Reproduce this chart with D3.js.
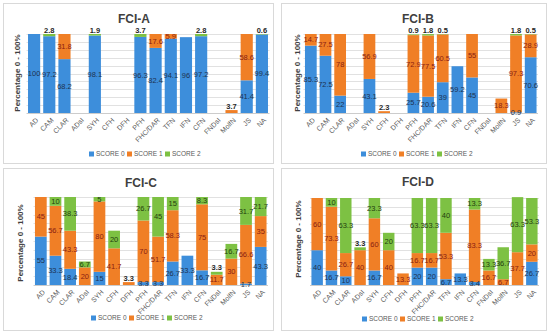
<!DOCTYPE html>
<html lang="en">
<head>
<meta charset="utf-8">
<title>FCI scores</title>
<style>
  body { margin: 0; background: #fff; }
  svg { display: block; font-family: 'Liberation Sans', Arial, sans-serif; }
</style>
</head>
<body>
<div id="chart"></div>
<script src="https://cdnjs.cloudflare.com/ajax/libs/d3/7.8.5/d3.min.js"></script>
<script>
const categories = ['AD', 'CAM', 'CLAR', 'ADsI', 'SYH', 'CFH', 'DFH', 'PFH', 'FHC/DAR', 'TFN', 'IFN', 'CFN', 'FNDsI', 'MolfN', 'JS', 'NA']
const seriesNames = ['SCORE 0', 'SCORE 1', 'SCORE 2']
const yTicks = [0, 10, 20, 30, 40, 50, 60, 70, 80, 90, 100]

// FCI-A
const fciA0 = [100, 97.2, 68.2, 0, 98.1, 0, 0, 96.3, 82.4, 94.1, 96.0, 97.2, 0, 0, 41.4, 99.4]
const fciA1 = [0, 0, 31.8, 0, 0, 0, 0, 0, 17.6, 5.9, 0, 0, 0, 3.7, 58.6, 0]
const fciA2 = [0, 2.8, 0, 0, 1.9, 0, 0, 3.7, 0, 0, 0, 2.8, 0, 0, 0, 0.6]
// FCI-B
const fciB0 = [85.3, 72.5, 22, 0, 43.1, 0, 0, 25.7, 20.6, 39, 59.2, 45, 0, 0, 0.9, 70.6]
const fciB1 = [14.7, 27.5, 78, 0, 56.9, 2.3, 0, 72.9, 77.5, 60.5, 0, 55, 0, 18.3, 97.3, 28.9]
const fciB2 = [0, 0, 0, 0, 0, 0, 0, 0.9, 1.8, 0.5, 0, 0, 0, 0, 1.8, 0.5]
// FCI-C
const fciC0 = [55, 33.3, 18.4, 0, 15, 0, 0, 3.3, 3.3, 26.7, 33.3, 16.7, 0, 0, 1.7, 43.3]
const fciC1 = [45, 56.7, 43.3, 20, 80, 41.7, 3.3, 70, 51.7, 58.3, 0, 75, 11.7, 30, 66.6, 35]
const fciC2 = [0, 10, 38.3, 6.7, 5, 20, 0, 26.7, 45, 15, 0, 8.3, 3.3, 16.7, 31.7, 21.7]
// FCI-D
const fciD0 = [40, 16.7, 10, 0, 16.7, 0, 0, 20, 20, 6.7, 13.3, 3.4, 0, 0, 0, 26.7]
const fciD1 = [60, 73.3, 26.7, 40, 60, 40, 13.3, 16.7, 16.7, 53.3, 0, 83.3, 16.7, 6.7, 37.7, 20]
const fciD2 = [0, 10, 63.3, 3.3, 23.3, 20, 0, 63.3, 63.3, 40, 0, 13.3, 13.3, 36.7, 63.3, 53.3]

const colors = ['#3d8edb', '#f07f26', '#7dc143']
const labelColors = ['#1d3352', '#8a2112', '#24400f']

const svg = d3.select('#chart').append('svg')
  .attr('width', 550)
  .attr('height', 335)

// panel boxes
drawPanel('FCI-A', [fciA0, fciA1, fciA2],
  { x0: 3, y0: 3, x1: 273, y1: 163, left: 26.5, right: 269.5, top: 34, bottom: 113, titleX: 134, titleY: 23, yTitleX: 17, yTitleY: 73, legendX: 89, legendY: 154 })
drawPanel('FCI-B', [fciB0, fciB1, fciB2],
  { x0: 281, y0: 3, x1: 546, y1: 163, left: 303.5, right: 538, top: 34, bottom: 113, titleX: 418, titleY: 23, yTitleX: 297, yTitleY: 73, legendX: 361, legendY: 154 })
drawPanel('FCI-C', [fciC0, fciC1, fciC2],
  { x0: 3, y0: 168, x1: 273, y1: 330, left: 33.5, right: 268, top: 197, bottom: 285, titleX: 141, titleY: 187, yTitleX: 20, yTitleY: 243, legendX: 91, legendY: 318 })
drawPanel('FCI-D', [fciD0, fciD1, fciD2],
  { x0: 281, y0: 168, x1: 546, y1: 330, left: 310, right: 539, top: 198, bottom: 285, titleX: 418, titleY: 186, yTitleX: 298, yTitleY: 239, legendX: 362, legendY: 319 })

function drawPanel(title, series, box) {
  const g = svg.append('g')

  g.append('rect')
    .attr('x', box.x0 + 0.5).attr('y', box.y0 + 0.5)
    .attr('width', box.x1 - box.x0).attr('height', box.y1 - box.y0)
    .attr('fill', '#fff').attr('stroke', '#d9d9d9')

  const rows = categories.map((c, i) => ({ cat: c, s0: series[0][i], s1: series[1][i], s2: series[2][i] }))
  const keys = ['s0', 's1', 's2']
  const stacked = d3.stack().keys(keys)(rows)

  const x = d3.scaleBand().domain(categories).range([box.left, box.right]).paddingInner(0.2).paddingOuter(0.1)
  const y = d3.scaleLinear().domain([0, 100]).range([box.bottom, box.top])

  // gridlines
  g.selectAll('.grid')
    .data(yTicks)
    .enter().append('line')
    .attr('x1', box.left).attr('x2', box.right)
    .attr('y1', d => Math.round(y(d)) + 0.5).attr('y2', d => Math.round(y(d)) + 0.5)
    .attr('stroke', d => d === 0 ? '#bfbfbf' : '#d9d9d9')
    .attr('stroke-width', 0.8)

  // bars
  stacked.forEach((layer, k) => {
    g.selectAll(`.bar-${k}`)
      .data(layer.filter(d => d[1] - d[0] > 0))
      .enter().append('rect')
      .attr('x', d => x(d.data.cat))
      .attr('width', x.bandwidth())
      .attr('y', d => y(d[1]))
      .attr('height', d => y(d[0]) - y(d[1]))
      .attr('fill', colors[k])
  })

  // data labels, tiny top segments get their label above the bar
  stacked.forEach((layer, k) => {
    layer.forEach((d, i) => {
      const v = d[1] - d[0]
      if (!(v > 0)) return
      const isTop = keys.slice(k + 1).every(key => !(rows[i][key] > 0))
      const above = isTop && v < 5
      const cy = above ? y(d[1]) - 4 : (y(d[0]) + y(d[1])) / 2
      g.append('text')
        .attr('x', x(d.data.cat) + x.bandwidth() / 2)
        .attr('y', cy)
        .attr('dy', '0.35em')
        .attr('text-anchor', 'middle')
        .style('font-size', '7.5px')
        .style('font-weight', above ? 'bold' : 'normal')
        .attr('fill', above ? '#262626' : labelColors[k])
        .text(+v.toFixed(1))
    })
  })

  // x labels
  g.selectAll('.xlab')
    .data(categories)
    .enter().append('text')
    .attr('transform', d => `translate(${x(d) + x.bandwidth() / 2 + 3}, ${box.bottom + 6}) rotate(-45)`)
    .attr('text-anchor', 'end')
    .attr('dy', '0.35em')
    .style('font-size', '7px')
    .attr('fill', '#595959')
    .text(d => d)

  // title
  g.append('text')
    .attr('x', box.titleX).attr('y', box.titleY)
    .attr('text-anchor', 'middle')
    .style('font-size', '12px')
    .style('font-weight', 'bold')
    .attr('fill', '#404040')
    .text(title)

  // y title
  g.append('text')
    .attr('transform', `translate(${box.yTitleX}, ${box.yTitleY}) rotate(-90)`)
    .attr('text-anchor', 'middle')
    .attr('dy', '0.35em')
    .style('font-size', '8px')
    .style('font-weight', 'bold')
    .attr('fill', '#404040')
    .text('Percentage 0 - 100%')

  // legend
  const leg = g.selectAll('.leg')
    .data(seriesNames)
    .enter().append('g')
    .attr('transform', (d, i) => `translate(${box.legendX + i * 38}, ${box.legendY})`)
  leg.append('rect')
    .attr('x', 0).attr('y', -2.5)
    .attr('width', 5).attr('height', 5)
    .attr('fill', (d, i) => colors[i])
  leg.append('text')
    .attr('x', 7).attr('dy', '0.35em')
    .style('font-size', '6.5px')
    .attr('fill', '#595959')
    .text(d => d)
}
</script>
</body>
</html>
